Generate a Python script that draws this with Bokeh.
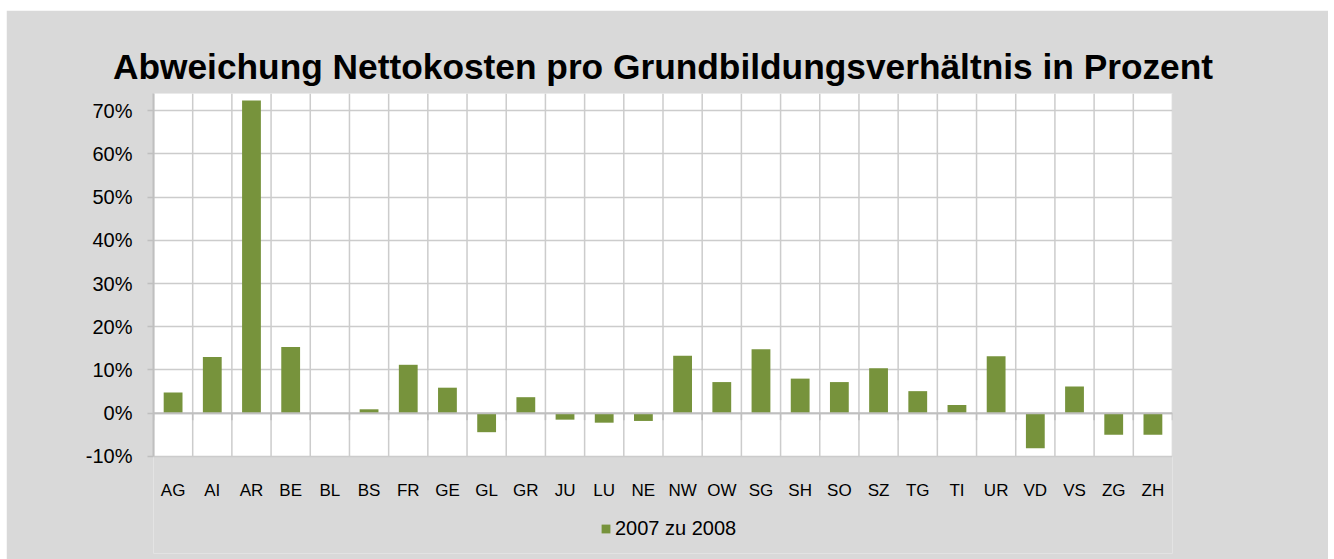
from bokeh.plotting import figure
from bokeh.models import (Range1d, FixedTicker, PrintfTickFormatter, Span, BoxAnnotation,
                          Legend, LegendItem, ColumnDataSource)
from bokeh.core.properties import value
from bokeh.embed import file_html
from bokeh.resources import INLINE

# ---- data ----
categories = ["AG", "AI", "AR", "BE", "BL", "BS", "FR", "GE", "GL", "GR", "JU", "LU", "NE",
              "NW", "OW", "SG", "SH", "SO", "SZ", "TG", "TI", "UR", "VD", "VS", "ZG", "ZH"]
values_pct = [4.8, 13.0, 72.4, 15.3, 0.0, 0.9, 11.2, 5.9, -4.4, 3.7, -1.5, -2.2, -1.8,
              13.3, 7.2, 14.8, 8.0, 7.2, 10.4, 5.1, 1.9, 13.2, -8.1, 6.2, -5.0, -5.0]
series_name = "2007 zu 2008"
title_text = "Abweichung Nettokosten pro Grundbildungsverhältnis in Prozent"
y_ticks = [-10, 0, 10, 20, 30, 40, 50, 60, 70]
y_min, y_max = -10, 74

# ---- style / layout ----
FONT = "Liberation Sans"
BAR = "#77933c"
GRID = "#cccccc"
AXIS = "#bfbfbf"
BG = "#d9d9d9"
W, H = 1322, 549
BL_, BR_, BT_, BB_ = 147, 156, 83, 6
PX_PER_UNIT = 4.32          # vertical scale of the plot area (pixels per percent)
LABEL_GAP_PX = 34           # category labels: centre below the -10% line
TICK_PX = 7                 # small ticks under the zero line

n = len(categories)
positions = list(range(1, n + 1))
boundaries = [i + 0.5 for i in range(n + 1)]

frame_h = H - BT_ - BB_
y_lo = y_max - frame_h / PX_PER_UNIT

src = ColumnDataSource(dict(x=positions, top=values_pct, cat=categories))

p = figure(width=W, height=H, output_backend="svg", toolbar_location=None,
           x_range=Range1d(0.5, n + 0.5), y_range=Range1d(y_lo, y_max),
           x_axis_location=None,
           min_border_left=BL_, min_border_right=BR_, min_border_top=BT_,
           min_border_bottom=BB_)
p.margin = (10, 0, 0, 6)
p.background_fill_color = BG
p.border_fill_color = BG
p.outline_line_color = None

p.title.text = title_text
p.title.text_font = FONT
p.title.text_font_size = "35.3px"
p.title.text_font_style = "bold"
p.title.text_color = "black"
p.title.align = "center"
p.title.offset = 7
p.title.standoff = 16

# white plot area
p.add_layout(BoxAnnotation(bottom=y_min, top=y_max, fill_color="white", fill_alpha=1,
                           line_color=None, level="image"))

# horizontal grid
p.xgrid.visible = False
p.ygrid.ticker = FixedTicker(ticks=y_ticks)
p.ygrid.grid_line_color = GRID
p.ygrid.grid_line_width = 1.5

# vertical grid lines at category boundaries (only over the plot area)
p.segment(x0=boundaries, y0=[y_min] * len(boundaries), x1=boundaries,
          y1=[y_max] * len(boundaries), line_color=GRID, line_width=1.5)

# bars
r = p.vbar(x="x", top="top", bottom=0, width=0.48, source=src,
           fill_color=BAR, line_color=None)

# zero line with short ticks at the category boundaries
tick_len = TICK_PX / PX_PER_UNIT
p.segment(x0=boundaries, y0=[0] * len(boundaries), x1=boundaries,
          y1=[-tick_len] * len(boundaries), line_color=AXIS, line_width=1.5)
p.add_layout(Span(location=0, dimension="width", line_color=AXIS, line_width=2))

# category labels under the plot area
label_y = y_min - LABEL_GAP_PX / PX_PER_UNIT
p.text(x=positions, y=[label_y] * n, text=categories, text_align="center",
       text_baseline="middle", text_font=value(FONT), text_font_size=value("17px"),
       text_color="black")

# y axis
ya = p.yaxis[0]
ya.bounds = (y_min, y_max)
ya.ticker = FixedTicker(ticks=y_ticks)
ya.formatter = PrintfTickFormatter(format="%d%%")
ya.major_label_text_font = FONT
ya.major_label_text_font_size = "20px"
ya.major_label_text_color = "black"
ya.major_label_standoff = 15
ya.axis_line_color = AXIS
ya.axis_line_width = 2
ya.major_tick_in = 0
ya.major_tick_out = 6
ya.major_tick_line_color = AXIS
ya.major_tick_line_width = 1.5
ya.minor_tick_line_color = None

legend = Legend(items=[LegendItem(label=series_name, renderers=[r])],
                location=(447, 13), orientation="horizontal",
                glyph_width=11, glyph_height=11, label_standoff=4,
                padding=0, margin=0, border_line_color=None,
                background_fill_alpha=0, label_text_font=FONT,
                label_text_font_size="20px", label_text_color="black")
p.add_layout(legend)

open("out.html", "w").write(file_html(p, INLINE))
